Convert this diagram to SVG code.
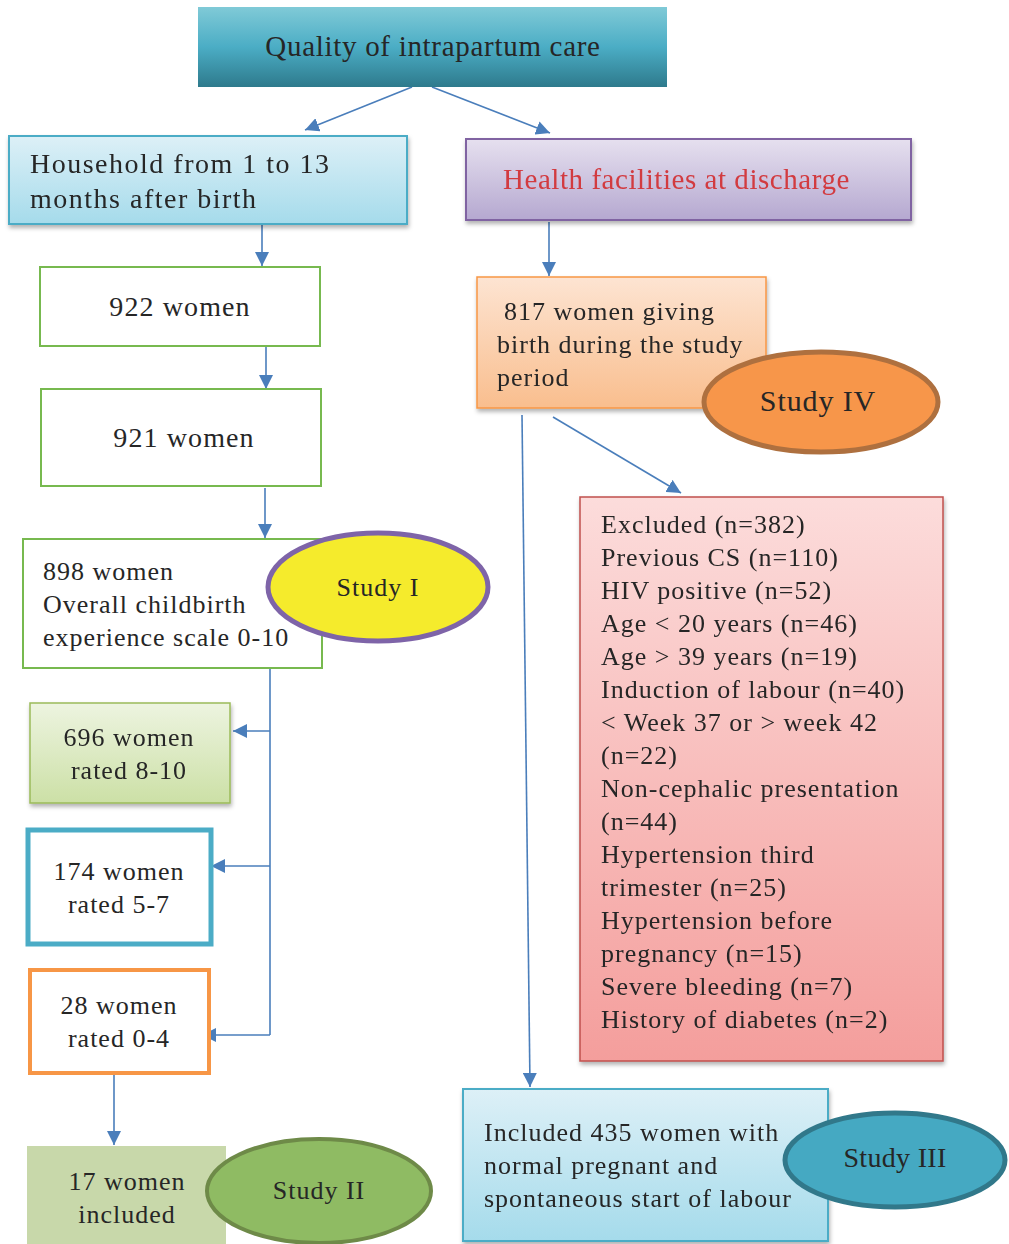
<svg xmlns="http://www.w3.org/2000/svg" width="1009" height="1244" viewBox="0 0 1009 1244">
<defs>
<linearGradient id="gTop" x1="0" y1="0" x2="0" y2="1"><stop offset="0" stop-color="#80CAD7"/><stop offset="0.5" stop-color="#4BADC5"/><stop offset="1" stop-color="#2E7A8C"/></linearGradient>
<linearGradient id="gBlue" x1="0" y1="0" x2="0" y2="1"><stop offset="0" stop-color="#DDF0F7"/><stop offset="1" stop-color="#A5DBEB"/></linearGradient>
<linearGradient id="gPurple" x1="0" y1="0" x2="0" y2="1"><stop offset="0" stop-color="#E6E0EF"/><stop offset="1" stop-color="#B5A8D0"/></linearGradient>
<linearGradient id="gOrange" x1="0" y1="0" x2="0" y2="1"><stop offset="0" stop-color="#FDE4D2"/><stop offset="1" stop-color="#F9BE8E"/></linearGradient>
<linearGradient id="gGreen" x1="0" y1="0" x2="0" y2="1"><stop offset="0" stop-color="#EDF4E0"/><stop offset="1" stop-color="#CCE0A6"/></linearGradient>
<linearGradient id="gPink" x1="0" y1="0" x2="0" y2="1"><stop offset="0" stop-color="#FCDCDB"/><stop offset="1" stop-color="#F49E9C"/></linearGradient>
<filter id="sh" x="-5%" y="-5%" width="115%" height="120%"><feDropShadow dx="1" dy="3" stdDeviation="2" flood-color="#000" flood-opacity="0.3"/></filter>
<marker id="ahL" viewBox="0 0 10 10" refX="10" refY="5" markerWidth="14" markerHeight="14" markerUnits="userSpaceOnUse" orient="auto"><path d="M0,0 L10,5 L0,10 z" fill="#4A7EBB"/></marker>
</defs>
<style>
text{font-family:"Liberation Serif","DejaVu Serif",serif;fill:#262626}
.t28{font-size:28px;letter-spacing:1.1px}
.t26{font-size:26px;letter-spacing:1px}
.c{text-anchor:middle}
.ln{stroke:#4A7EBB;stroke-width:1.6;fill:none;marker-end:url(#ahL)}
</style>
<rect width="1009" height="1244" fill="#fff"/>

<g id="connectors">
<line class="ln" x1="412" y1="87" x2="305" y2="130"/>
<line class="ln" x1="432" y1="87" x2="550" y2="133"/>
<line class="ln" x1="262" y1="225" x2="262" y2="266"/>
<line class="ln" x1="266" y1="347" x2="266" y2="389"/>
<line class="ln" x1="265" y1="488" x2="265" y2="538"/>
<polyline points="270,669 270,1035" stroke="#4A7EBB" stroke-width="1.6" fill="none"/>
<line class="ln" x1="270" y1="731" x2="233" y2="731"/>
<line class="ln" x1="270" y1="866" x2="211" y2="866"/>
<line class="ln" x1="270" y1="1035" x2="202" y2="1035"/>
<line class="ln" x1="114" y1="1075" x2="114" y2="1145"/>
<line class="ln" x1="549" y1="222" x2="549" y2="276"/>
<line class="ln" x1="522" y1="415" x2="530" y2="1087"/>
<line class="ln" x1="553" y1="417" x2="681" y2="493"/>
</g>

<g id="n-top">
<rect x="198" y="7" width="469" height="80" fill="url(#gTop)"/>
<text class="c" x="433" y="56" font-size="29" letter-spacing="0.7">Quality of intrapartum care</text>
</g>

<g id="n-household" filter="url(#sh)">
<rect x="9" y="136" width="398" height="88" fill="url(#gBlue)" stroke="#4BACC6" stroke-width="2"/>
<text x="30" y="173" font-size="28" letter-spacing="1.5">Household from 1 to 13</text>
<text x="30" y="208" font-size="28" letter-spacing="1.5">months after birth</text>
</g>

<g id="n-health" filter="url(#sh)">
<rect x="466" y="139" width="445" height="81" fill="url(#gPurple)" stroke="#8064A2" stroke-width="2"/>
<text x="503" y="189" font-size="29" letter-spacing="0.55" style="fill:#D23A3F">Health facilities at discharge</text>
</g>

<g id="n-922">
<rect x="40" y="267" width="280" height="79" fill="#fff" stroke="#77B94F" stroke-width="2"/>
<text class="t28 c" x="180" y="316">922 women</text>
</g>

<g id="n-921">
<rect x="41" y="389" width="280" height="97" fill="#fff" stroke="#77B94F" stroke-width="2"/>
<text class="t28 c" x="184" y="447">921 women</text>
</g>

<g id="n-898">
<rect x="23" y="539" width="299" height="129" fill="#fff" stroke="#77B94F" stroke-width="2"/>
<text class="t26" x="43" y="580" letter-spacing="0.75">898 women</text>
<text class="t26" x="43" y="613" letter-spacing="0.75">Overall childbirth</text>
<text class="t26" x="43" y="646" letter-spacing="0.75">experience scale 0-10</text>
</g>

<g id="n-study1">
<ellipse cx="378" cy="587" rx="110" ry="54" fill="#F5EB2C" stroke="#7E64A8" stroke-width="5"/>
<text class="t26 c" x="378" y="596">Study I</text>
</g>

<g id="n-696" filter="url(#sh)">
<rect x="30" y="703" width="200" height="100" fill="url(#gGreen)" stroke="#9BBB59" stroke-width="1.5"/>
<text class="t26 c" x="129" y="746">696 women</text>
<text class="t26 c" x="129" y="779">rated 8-10</text>
</g>

<g id="n-174">
<rect x="28" y="830" width="183" height="114" fill="#fff" stroke="#4BACC6" stroke-width="5"/>
<text class="t26 c" x="119" y="880">174 women</text>
<text class="t26 c" x="119" y="913">rated 5-7</text>
</g>

<g id="n-28">
<rect x="30" y="970" width="179" height="103" fill="#fff" stroke="#F79646" stroke-width="4"/>
<text class="t26 c" x="119" y="1014">28 women</text>
<text class="t26 c" x="119" y="1047">rated 0-4</text>
</g>

<g id="n-17">
<rect x="27" y="1146" width="199" height="98" fill="#C8D8AA"/>
<text class="t26 c" x="127" y="1190">17 women</text>
<text class="t26 c" x="127" y="1223">included</text>
</g>

<g id="n-study2">
<ellipse cx="319" cy="1191" rx="112" ry="52" fill="#8FBB63" stroke="#6E8A48" stroke-width="4"/>
<text class="t26 c" x="319" y="1199">Study II</text>
</g>

<g id="n-817" filter="url(#sh)">
<rect x="477" y="277" width="289" height="131" fill="url(#gOrange)" stroke="#F79646" stroke-width="1.5"/>
<text class="t26" x="504" y="320">817 women giving</text>
<text class="t26" x="497" y="353">birth during the study</text>
<text class="t26" x="497" y="386">period</text>
</g>

<g id="n-study4">
<ellipse cx="821" cy="402" rx="117" ry="50" fill="#F7964A" stroke="#AE703F" stroke-width="5"/>
<text class="c" x="818" y="411" font-size="30" letter-spacing="0.9">Study IV</text>
</g>

<g id="n-excluded" filter="url(#sh)">
<rect x="580" y="497" width="363" height="564" fill="url(#gPink)" stroke="#C0504D" stroke-width="1.5"/>
<text class="t26" x="601" y="533">Excluded (n=382)</text>
<text class="t26" x="601" y="566">Previous CS (n=110)</text>
<text class="t26" x="601" y="599">HIV positive (n=52)</text>
<text class="t26" x="601" y="632">Age &lt; 20 years (n=46)</text>
<text class="t26" x="601" y="665">Age &gt; 39 years (n=19)</text>
<text class="t26" x="601" y="698">Induction of labour (n=40)</text>
<text class="t26" x="601" y="731">&lt; Week 37 or &gt; week 42</text>
<text class="t26" x="601" y="764">(n=22)</text>
<text class="t26" x="601" y="797">Non-cephalic presentation</text>
<text class="t26" x="601" y="830">(n=44)</text>
<text class="t26" x="601" y="863">Hypertension third</text>
<text class="t26" x="601" y="896">trimester (n=25)</text>
<text class="t26" x="601" y="929">Hypertension before</text>
<text class="t26" x="601" y="962">pregnancy (n=15)</text>
<text class="t26" x="601" y="995">Severe bleeding (n=7)</text>
<text class="t26" x="601" y="1028">History of diabetes (n=2)</text>
</g>

<g id="n-included" filter="url(#sh)">
<rect x="463" y="1089" width="365" height="152" fill="url(#gBlue)" stroke="#4BACC6" stroke-width="2"/>
<text class="t26" x="484" y="1141">Included 435 women with</text>
<text class="t26" x="484" y="1174">normal pregnant and</text>
<text class="t26" x="484" y="1207">spontaneous start of labour</text>
</g>

<g id="n-study3">
<ellipse cx="895" cy="1160" rx="110" ry="47" fill="#45A9C2" stroke="#31788A" stroke-width="5"/>
<text class="c" x="895" y="1167" font-size="28" letter-spacing="0.3">Study III</text>
</g>
</svg>
